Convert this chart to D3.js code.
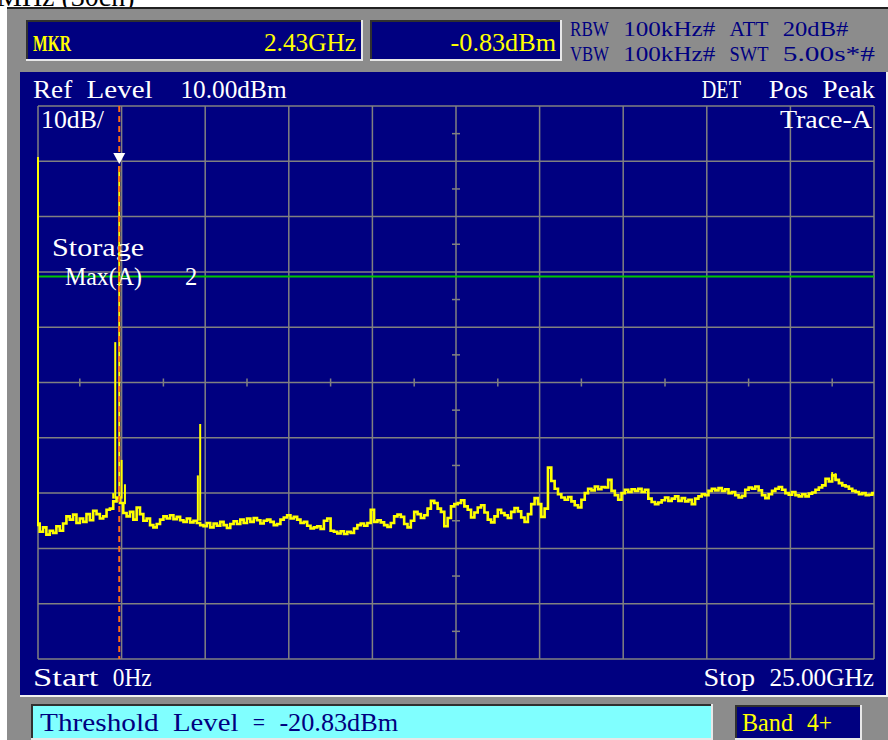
<!DOCTYPE html>
<html>
<head>
<meta charset="utf-8">
<script src="https://cdn.jsdelivr.net/npm/d3@7"></script>
<style>
  body { margin: 0; background: #fff; }
</style>
</head>
<body>
<div id="chart"></div>
<script>
// spectrum analyser screen, 0 - 25 GHz, 10 dB/div
var startGHz = 0, stopGHz = 25;
var refLevelDbm = 10, bottomDbm = -90;
var xGridGHz = [0, 2.5, 5, 7.5, 10, 12.5, 15, 17.5, 20, 22.5, 25];
var yGridDbm = [10, 0, -10, -20, -30, -40, -50, -60, -70, -80, -90];
var xMinorGHz = [1.25, 3.75, 6.25, 8.75, 11.25, 13.75, 16.25, 18.75, 21.25, 23.75];
var yMinorDbm = [5, -5, -15, -25, -35, -45, -55, -65, -75, -85];

var markerGHz = 2.43, markerDbm = -0.83;
var thresholdDbm = -20.83;

// trace-A, one value every 0.1 GHz
var traceStepGHz = 0.1;
var traceDbm = [
  -65.5, -67.0, -66.2, -67.5, -66.8, -67.2, -66.0, -66.8, -65.5, -64.2,
  -64.8, -63.9, -65.4, -64.6, -65.2, -63.8, -64.9, -63.2, -63.8, -64.6,
  -64.2, -63.0, -62.8, -61.5, -60.8, -61.8, -63.6, -64.2, -63.4, -64.8,
  -62.6, -63.8, -65.0, -64.6, -65.8, -66.2, -65.6, -64.8, -64.2, -64.6,
  -64.0, -64.7, -64.3, -64.9, -65.2, -64.6, -65.3, -65.0, -65.4, -65.8,
  -66.0, -65.4, -66.2, -65.5, -65.9, -65.2, -65.8, -66.3, -65.6, -65.1,
  -65.6, -64.8, -65.4, -64.6, -65.2, -64.5, -64.9, -65.5, -65.0, -64.8,
  -65.2, -65.8, -65.6, -64.8, -64.4, -64.0, -64.6, -64.3, -64.8, -65.4,
  -65.2, -65.9, -66.4, -66.2, -66.0, -66.5, -65.0, -64.6, -66.8, -67.0,
  -67.3, -66.9, -67.4, -67.0, -67.2, -66.4, -65.8, -65.5, -65.9, -65.4,
  -63.0, -65.2, -64.9, -65.3, -65.8, -66.1, -65.4, -64.2, -63.9, -64.3,
  -65.6, -66.2, -65.0, -63.4, -63.8, -64.5, -64.0, -62.8, -61.4, -61.8,
  -62.8, -63.4, -66.0, -64.5, -62.4, -62.0, -61.8, -61.3, -62.4, -63.0,
  -64.4, -63.5, -62.6, -62.2, -63.5, -64.8, -65.3, -64.2, -63.0, -63.6,
  -64.0, -64.5, -63.4, -62.7, -63.3, -64.4, -65.2, -63.8, -62.0, -60.9,
  -62.0, -64.3, -62.8, -55.4, -57.8, -59.2, -60.2, -60.8, -61.2, -60.7,
  -61.5, -62.2, -62.6, -61.2, -60.0, -59.2, -59.5, -58.8, -59.3, -58.9,
  -59.0, -57.6, -59.6, -60.4, -61.2, -60.0, -59.4, -59.8, -59.3, -59.6,
  -59.2, -59.8, -59.4, -61.0, -61.6, -62.0, -61.7, -61.3, -60.8, -61.4,
  -61.0, -60.6, -61.4, -60.9, -61.5, -61.2, -62.0, -61.0, -60.6, -60.2,
  -60.4, -59.6, -59.2, -59.5, -59.1, -59.6, -59.3, -60.0, -59.8, -60.4,
  -60.8, -60.5, -59.4, -59.0, -59.2, -58.8, -59.5, -60.4, -60.9, -60.2,
  -59.6, -59.2, -58.9, -59.4, -60.0, -60.3, -59.8, -60.4, -60.6, -60.2,
  -60.6, -60.1, -59.9, -59.4, -59.0, -58.6, -57.4, -57.9, -56.8, -57.6,
  -58.2, -58.6, -58.8, -59.2, -59.6, -59.8, -60.2, -60.0, -60.4, -60.3, -60.0
];

// narrow spurs drawn as single lines
var spikeGHz     = [0,     2.25,  2.31,  2.43,  2.5,   2.6,   4.78,  4.85,  23.75, 23.85];
var spikeTopDbm  = [0.8,   -60.0, -32.7, -0.83, -54.0, -58.4, -56.8, -47.5, -56.2, -56.4];
var spikeBaseDbm = [-66.0, -61.0, -61.0, -61.0, -61.0, -62.0, -65.0, -65.0, -57.6, -57.6];

var W = 888, H = 740;
var navy = "#000080", panelGray = "#8c8c8c", gridGray = "#808080";

var svg = d3.select("#chart").append("svg")
  .attr("width", W).attr("height", H);

var x = d3.scaleLinear().domain([startGHz, stopGHz]).range([38, 874]);
var y = d3.scaleLinear().domain([refLevelDbm, bottomDbm]).range([106, 659]);

function rect(x0, y0, w, h, fill) {
  return svg.append("rect").attr("x", x0).attr("y", y0)
    .attr("width", w).attr("height", h).attr("fill", fill);
}

// fixed-pitch text: every word is put on the character grid
function label(str, x0, y0, o) {
  var adv = o.adv || 13.3;
  var start = o.anchor == "end" ? x0 - str.length * adv : x0;
  var g = svg.append("g").attr("class", "lbl");
  var re = /\S+/g, m;
  while ((m = re.exec(str)) !== null) {
    g.append("text")
      .attr("x", start + m.index * adv).attr("y", y0)
      .attr("font-family", "'Liberation Serif', serif")
      .attr("font-size", o.size || 26)
      .attr("font-weight", o.weight || "normal")
      .attr("fill", o.fill)
      .attr("textLength", m[0].length * adv - 1)
      .attr("lengthAdjust", "spacingAndGlyphs")
      .text(m[0]);
  }
  return g;
}

// page strip + instrument frame
rect(0, 0, W, H, "#fff");
svg.append("text").attr("x", -3).attr("y", 6)
  .attr("font-family", "'Liberation Serif', serif")
  .attr("font-size", 28).attr("fill", "#000")
  .text("MHz (30ch)");
rect(7, 7, W - 7, 2, "#202020");
rect(7, 9, W - 7, H - 9, panelGray);

// header boxes
function bevelBox(x0, y0, w, h, fill) {
  rect(x0 - 2, y0 - 2, w + 4, h + 4, "#e8e8e8");
  rect(x0 - 2, y0 - 2, w + 2, h + 2, "#303030");
  rect(x0, y0, w, h, fill);
}
bevelBox(28, 22, 333, 37, navy);
bevelBox(372, 22, 188, 37, navy);

label("MKR", 33, 51, {fill: "#ffff00", size: 24, adv: 13, weight: "bold"});
label("2.43GHz", 357, 51, {fill: "#ffff00", anchor: "end"});
label("-0.83dBm", 557, 51, {fill: "#ffff00", anchor: "end"});
label("RBW 100kHz# ATT 20dB#", 570, 36, {fill: navy, size: 21});
label("VBW 100kHz# SWT 5.00s*#", 570, 61, {fill: navy, size: 21});

// main screen
rect(20, 72, 868, 625, "#f0f0f0");
rect(20, 72, 866, 623, navy);

// grid
var grid = svg.append("g").attr("stroke", gridGray).attr("stroke-width", 1.5);
grid.selectAll(".vg").data(xGridGHz).enter().append("line")
  .attr("x1", d => x(d)).attr("x2", d => x(d))
  .attr("y1", y(refLevelDbm)).attr("y2", y(bottomDbm));
grid.selectAll(".hg").data(yGridDbm).enter().append("line")
  .attr("y1", d => y(d)).attr("y2", d => y(d))
  .attr("x1", x(startGHz)).attr("x2", x(stopGHz));
var midGHz = (startGHz + stopGHz) / 2, midDbm = (refLevelDbm + bottomDbm) / 2;
grid.selectAll(".hm").data(yMinorDbm).enter().append("line")
  .attr("x1", x(midGHz) - 4).attr("x2", x(midGHz) + 4)
  .attr("y1", d => y(d)).attr("y2", d => y(d));
grid.selectAll(".vm").data(xMinorGHz).enter().append("line")
  .attr("y1", y(midDbm) - 4).attr("y2", y(midDbm) + 4)
  .attr("x1", d => x(d)).attr("x2", d => x(d));

// threshold line
svg.append("line")
  .attr("x1", x(startGHz)).attr("x2", x(stopGHz))
  .attr("y1", y(thresholdDbm)).attr("y2", y(thresholdDbm))
  .attr("stroke", "#00c800").attr("stroke-width", 2);

// screen texts
var white = "#fff";
label("Ref Level  10.00dBm", 33, 98, {fill: white, adv: 13.4});
label("DET  Pos Peak", 876, 98, {fill: white, anchor: "end", adv: 13.4});
label("10dB/", 41, 128, {fill: white, adv: 12.8});
label("Trace-A", 873, 128, {fill: white, anchor: "end"});
label("Storage", 52, 256, {fill: white});
label("Max(A)", 65, 285, {fill: white, adv: 13});
label("2", 185, 285, {fill: white});
label("Start 0Hz", 33, 686, {fill: white});
label("Stop 25.00GHz", 875, 686, {fill: white, anchor: "end", adv: 13.2});

// trace
var traceData = traceDbm.map((v, i) => ({f: startGHz + i * traceStepGHz, v: v}));
var line = d3.line().x(d => x(d.f)).y(d => y(d.v)).curve(d3.curveStep);
svg.append("path").datum(traceData)
  .attr("d", line)
  .attr("fill", "none").attr("stroke", "#ffff00").attr("stroke-width", 2.6);

svg.selectAll(".spike").data(spikeGHz).enter().append("line")
  .attr("x1", d => x(d)).attr("x2", d => x(d))
  .attr("y1", (d, i) => y(spikeBaseDbm[i])).attr("y2", (d, i) => y(spikeTopDbm[i]))
  .attr("stroke", "#ffff00").attr("stroke-width", 2);

// marker
svg.append("line")
  .attr("x1", x(markerGHz)).attr("x2", x(markerGHz))
  .attr("y1", y(refLevelDbm)).attr("y2", y(bottomDbm))
  .attr("stroke", "#ff6a10").attr("stroke-width", 2)
  .attr("stroke-dasharray", "6,4");
var mx = x(markerGHz), my = y(markerDbm);
svg.append("path")
  .attr("d", `M${mx - 6},${my - 13}L${mx + 6},${my - 13}L${mx},${my - 2}Z`)
  .attr("fill", "#fff");

// bottom status line
rect(20, 695, 868, 2, "#f0f0f0");
bevelBox(33, 706, 678, 32, "#80ffff");
label("Threshold Level = -20.83dBm", 40, 731, {fill: navy, size: 25});
bevelBox(737, 707, 123, 31, navy);
label("Band 4+", 742, 731, {fill: "#ffff00", size: 25, adv: 13});
</script>
</body>
</html>
